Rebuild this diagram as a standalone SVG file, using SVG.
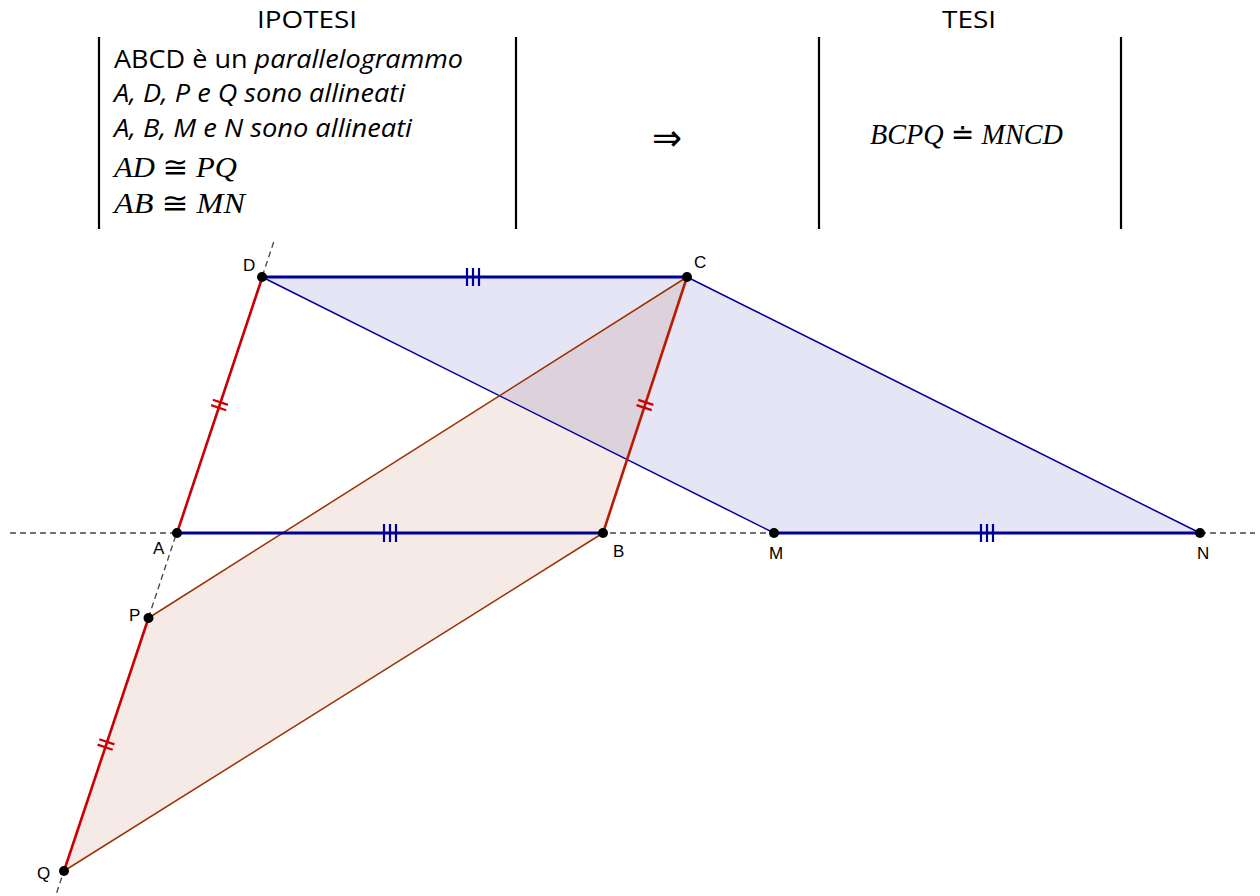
<svg xmlns="http://www.w3.org/2000/svg" width="1260" height="896" viewBox="0 0 1260 896">
<style>
.hdr{font-family:"Open Sans","Noto Sans",sans-serif;font-size:24px;fill:#000}
.txt{font-family:"Open Sans","Noto Sans",sans-serif;font-size:25px;fill:#000}
.it{font-style:italic}
.math{font-family:"Liberation Serif","DejaVu Serif",serif;font-style:italic;font-size:29px;fill:#000}
.sym{font-family:"DejaVu Sans","Liberation Serif",serif;font-style:normal}
.lbl{font-family:"Liberation Sans",Arial,sans-serif;font-size:17px;fill:#000}
.bar{stroke:#000;stroke-width:2.2}
.dash{stroke:#444;stroke-width:1.3;stroke-dasharray:6 4;fill:none}
.thickB{stroke:#000099;stroke-width:3;fill:none}
.thinB{stroke:#000099;stroke-width:1.5;fill:none}
.red{stroke:#cc0000;stroke-width:2.6;fill:none}
.redB{stroke:#bb1a00;stroke-width:2.6;fill:none}
.brown{stroke:#993300;stroke-width:1.5;fill:none}
.tickB{stroke:#000099;stroke-width:2.2}
.tickR{stroke:#cc0000;stroke-width:2.2}
.pt{fill:#000}
</style>
<rect width="1260" height="896" fill="#fff"/>
<g id="header">
<text class="hdr" x="257" y="28" textLength="100" lengthAdjust="spacingAndGlyphs">IPOTESI</text>
<text class="hdr" x="942" y="28" textLength="54" lengthAdjust="spacingAndGlyphs">TESI</text>
<line class="bar" x1="99" y1="37" x2="99" y2="229"/>
<line class="bar" x1="516" y1="37" x2="516" y2="229"/>
<line class="bar" x1="819" y1="37" x2="819" y2="229"/>
<line class="bar" x1="1121" y1="37" x2="1121" y2="229"/>
<text class="txt" x="114" y="68" textLength="349" lengthAdjust="spacingAndGlyphs">ABCD è un <tspan class="it">parallelogrammo</tspan></text>
<text class="txt it" x="114" y="102" textLength="291" lengthAdjust="spacingAndGlyphs">A, D, P e Q sono allineati</text>
<text class="txt it" x="114" y="137" textLength="298" lengthAdjust="spacingAndGlyphs">A, B, M e N sono allineati</text>
<text class="math" x="114" y="177" textLength="123" lengthAdjust="spacingAndGlyphs">AD <tspan class="sym">≅</tspan> PQ</text>
<text class="math" x="114" y="213" textLength="131" lengthAdjust="spacingAndGlyphs">AB <tspan class="sym">≅</tspan> MN</text>
<text x="652" y="150" font-family="DejaVu Sans,sans-serif" font-size="36" textLength="30" lengthAdjust="spacingAndGlyphs">⇒</text>
<text class="math" x="870" y="144" font-size="28" textLength="193" lengthAdjust="spacingAndGlyphs">BCPQ <tspan class="sym">≐</tspan> MNCD</text>
</g>
<g id="fills">
<polygon id="MNCD" points="774,533 1200,533 687,277 262,277" fill="#000099" fill-opacity="0.1"/>
<polygon id="BCPQ" points="64,871 148.5,618 687,277 603,533" fill="#993300" fill-opacity="0.1"/>
</g>
<g id="connectors">
<line class="dash" x1="10" y1="533" x2="1255" y2="533"/>
<line class="dash" x1="273.7" y1="242" x2="55.6" y2="896"/>
<line class="thinB" x1="262" y1="277" x2="774" y2="533"/>
<line class="thinB" x1="687" y1="277" x2="1200" y2="533"/>
<line class="brown" x1="148.5" y1="618" x2="687" y2="277"/>
<line class="brown" x1="64" y1="871" x2="603" y2="533"/>
<line class="thickB" x1="262" y1="277" x2="687" y2="277"/>
<line class="thickB" x1="177" y1="533" x2="603" y2="533"/>
<line class="thickB" x1="774" y1="533" x2="1200" y2="533"/>
<line class="red" x1="177" y1="533" x2="262.4" y2="277"/>
<line class="red" x1="64" y1="871" x2="148.5" y2="618"/>
<line class="redB" x1="603" y1="533" x2="687" y2="277"/>
<g id="ticks">
<path class="tickB" d="M467,268V286M473,268V286M479,268V286"/>
<path class="tickB" d="M384,524V542M390,524V542M396,524V542"/>
<path class="tickB" d="M981,524V542M987,524V542M993,524V542"/>
<g transform="translate(219.5,405) rotate(-71.6)">
<path class="tickR" d="M-2.8,-8V8M2.8,-8V8"/>
</g>
<g transform="translate(645,405) rotate(-71.8)">
<path class="tickR" d="M-2.8,-8V8M2.8,-8V8"/>
</g>
<g transform="translate(106,744.5) rotate(-71.5)">
<path class="tickR" d="M-2.8,-8V8M2.8,-8V8"/>
</g>
</g>
</g>
<g id="A"><circle class="pt" cx="177" cy="533" r="5"/><text class="lbl" x="153" y="554">A</text></g>
<g id="B"><circle class="pt" cx="603" cy="533" r="5"/><text class="lbl" x="613" y="557">B</text></g>
<g id="C"><circle class="pt" cx="687" cy="277" r="5"/><text class="lbl" x="694" y="268">C</text></g>
<g id="D"><circle class="pt" cx="262" cy="277" r="5"/><text class="lbl" x="243" y="271">D</text></g>
<g id="M"><circle class="pt" cx="774" cy="533" r="5"/><text class="lbl" x="769" y="559">M</text></g>
<g id="N"><circle class="pt" cx="1200" cy="533" r="5"/><text class="lbl" x="1197" y="559">N</text></g>
<g id="P"><circle class="pt" cx="148.5" cy="618" r="5"/><text class="lbl" x="129" y="621">P</text></g>
<g id="Q"><circle class="pt" cx="64" cy="871" r="5"/><text class="lbl" x="37" y="879">Q</text></g>
</svg>
